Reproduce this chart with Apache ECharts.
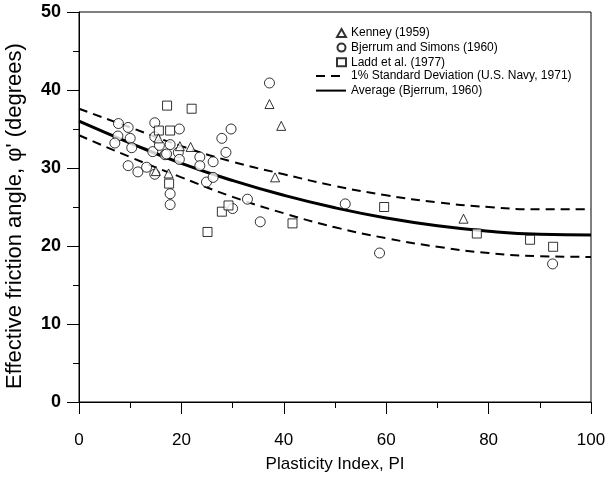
<!DOCTYPE html>
<html>
<head>
<meta charset="utf-8">
<script src="https://cdn.jsdelivr.net/npm/echarts@6/dist/echarts.min.js"></script>
<style>
  html, body { margin: 0; padding: 0; background: #fff; }
  #main { width: 608px; height: 477px; }
</style>
</head>
<body>
<div id="main"></div>
<script>
const piGrid = [0, 10, 20, 30, 40, 50, 60, 70, 80, 90, 100];
// Average (Bjerrum, 1960)
const avgCurve = [36.0, 33.2, 30.6, 28.4, 26.5, 24.9, 23.6, 22.6, 21.9, 21.5, 21.4];
// 1% standard deviation band (U.S. Navy, 1971)
const upperCurve = [37.6, 35.2, 32.8, 30.8, 29.2, 27.7, 26.5, 25.6, 25.0, 24.7, 24.7];
const lowerCurve = [34.2, 31.4, 28.8, 26.3, 24.2, 22.4, 21.0, 19.9, 19.1, 18.7, 18.6];

// [PI, phi'] points
const kenney = [
  [15.0, 29.6], [17.5, 29.3], [15.5, 33.8], [19.7, 32.8], [21.8, 32.7],
  [37.2, 38.2], [39.5, 35.4], [38.3, 28.8], [75.1, 23.5]
];
const bjerrumSimons = [
  [7.7, 35.7], [9.6, 35.2], [7.6, 34.1], [10.0, 33.8], [7.0, 33.2], [10.3, 32.6],
  [14.8, 35.8], [9.6, 30.3], [11.5, 29.5], [13.2, 30.1], [14.8, 29.2], [14.4, 32.1],
  [16.8, 31.7], [17.8, 26.7], [17.8, 25.3], [17.8, 33.0], [14.8, 34.0], [15.7, 32.9],
  [19.6, 35.0], [19.4, 32.0], [19.6, 31.1], [17.1, 31.8], [23.6, 31.4], [23.6, 30.3],
  [26.2, 30.8], [27.9, 33.8], [28.7, 32.0], [24.9, 28.2], [26.2, 28.8], [29.7, 35.0],
  [37.2, 40.9], [32.9, 26.0], [30.0, 24.8], [35.4, 23.1], [52.0, 25.4], [58.7, 19.1],
  [92.5, 17.7]
];
const ladd = [
  [17.2, 38.0], [22.0, 37.6], [15.6, 34.8], [17.8, 34.8], [17.6, 28.0],
  [27.9, 24.4], [29.2, 25.2], [25.1, 21.8], [41.7, 22.9], [59.6, 25.0],
  [77.7, 21.6], [88.1, 20.8], [92.6, 19.9]
];

const names = {
  kenney: 'Kenney (1959)',
  bjerrum: 'Bjerrum and Simons (1960)',
  ladd: 'Ladd et al. (1977)',
  sd: '1% Standard Deviation (U.S. Navy, 1971)',
  avg: 'Average (Bjerrum, 1960)'
};

const font = 'Liberation Sans, Arial, sans-serif';
const zip = (ys) => piGrid.map((x, i) => [x, ys[i]]);

const hollow = {color: '#fff', borderColor: '#000', borderWidth: 1};
// hides the dot ECharts puts in the middle of a line legend icon
const noDot = {color: 'rgba(0,0,0,0)', borderColor: 'rgba(0,0,0,0)', borderWidth: 0};
const legendText = {fontFamily: font, fontSize: 12, color: '#000'};

const chart = echarts.init(document.getElementById('main'));
chart.setOption({
  animation: false,
  backgroundColor: '#fff',
  textStyle: {fontFamily: font},
  grid: {
    left: 79, right: 17, top: 12, bottom: 75,
    outerBoundsMode: 'none',
    show: true, borderColor: '#000', borderWidth: 1
  },
  legend: [
    {
      // marker entries: small square icon box so symbols are not stretched
      orient: 'vertical',
      left: 331, top: 22,
      itemWidth: 9, itemHeight: 8, itemGap: 2.6,
      textStyle: legendText,
      data: [
        {name: names.kenney, icon: 'triangle'},
        {name: names.bjerrum, icon: 'circle'},
        {name: names.ladd, icon: 'rect'}
      ]
    },
    {
      orient: 'vertical',
      left: 310, top: 65,
      itemWidth: 30, itemHeight: 8, itemGap: 2.6,
      textStyle: legendText,
      data: [
        {name: names.sd, itemStyle: noDot},
        {name: names.avg, itemStyle: noDot}
      ]
    }
  ],
  xAxis: {
    type: 'value', min: 0, max: 100, interval: 20,
    name: 'Plasticity Index, PI', nameLocation: 'middle', nameGap: 54,
    nameTextStyle: {fontFamily: font, fontSize: 17, color: '#000'},
    axisLine: {lineStyle: {color: '#000', width: 1}},
    axisTick: {length: 12, lineStyle: {color: '#000'}},
    minorTick: {show: true, splitNumber: 2, length: 6, lineStyle: {color: '#000'}},
    axisLabel: {fontFamily: font, fontSize: 17, color: '#000', margin: 30},
    splitLine: {show: false}
  },
  yAxis: {
    type: 'value', min: 0, max: 50, interval: 10,
    name: "Effective friction angle, \u03c6' (degrees)", nameLocation: 'middle', nameGap: 53,
    nameTextStyle: {fontFamily: font, fontSize: 22, color: '#000', padding: [0, 18, 0, 0]},
    axisLine: {lineStyle: {color: '#000', width: 1}},
    axisTick: {length: 12, lineStyle: {color: '#000'}},
    minorTick: {show: true, splitNumber: 2, length: 6, lineStyle: {color: '#000'}},
    axisLabel: {fontFamily: font, fontSize: 18, fontWeight: 'bold', color: '#000', margin: 18},
    splitLine: {show: false}
  },
  series: [
    {
      name: names.kenney, type: 'scatter', data: kenney,
      symbol: 'triangle', symbolSize: 9, itemStyle: hollow, z: 5
    },
    {
      name: names.bjerrum, type: 'scatter', data: bjerrumSimons,
      symbol: 'circle', symbolSize: 10, itemStyle: hollow, z: 4
    },
    {
      name: names.ladd, type: 'scatter', data: ladd,
      symbol: 'rect', symbolSize: 9, itemStyle: hollow, z: 4
    },
    {
      name: names.sd, type: 'line', data: zip(upperCurve), smooth: true,
      showSymbol: false, symbol: 'none', color: '#000',
      lineStyle: {color: '#000', width: 2, type: [9, 6]}, z: 3
    },
    {
      name: names.sd, type: 'line', data: zip(lowerCurve), smooth: true,
      showSymbol: false, symbol: 'none', color: '#000',
      lineStyle: {color: '#000', width: 2, type: [9, 6]}, z: 3
    },
    {
      name: names.avg, type: 'line', data: zip(avgCurve), smooth: true,
      showSymbol: false, symbol: 'none', color: '#000',
      lineStyle: {color: '#000', width: 3}, z: 3
    }
  ]
});
</script>
</body>
</html>
